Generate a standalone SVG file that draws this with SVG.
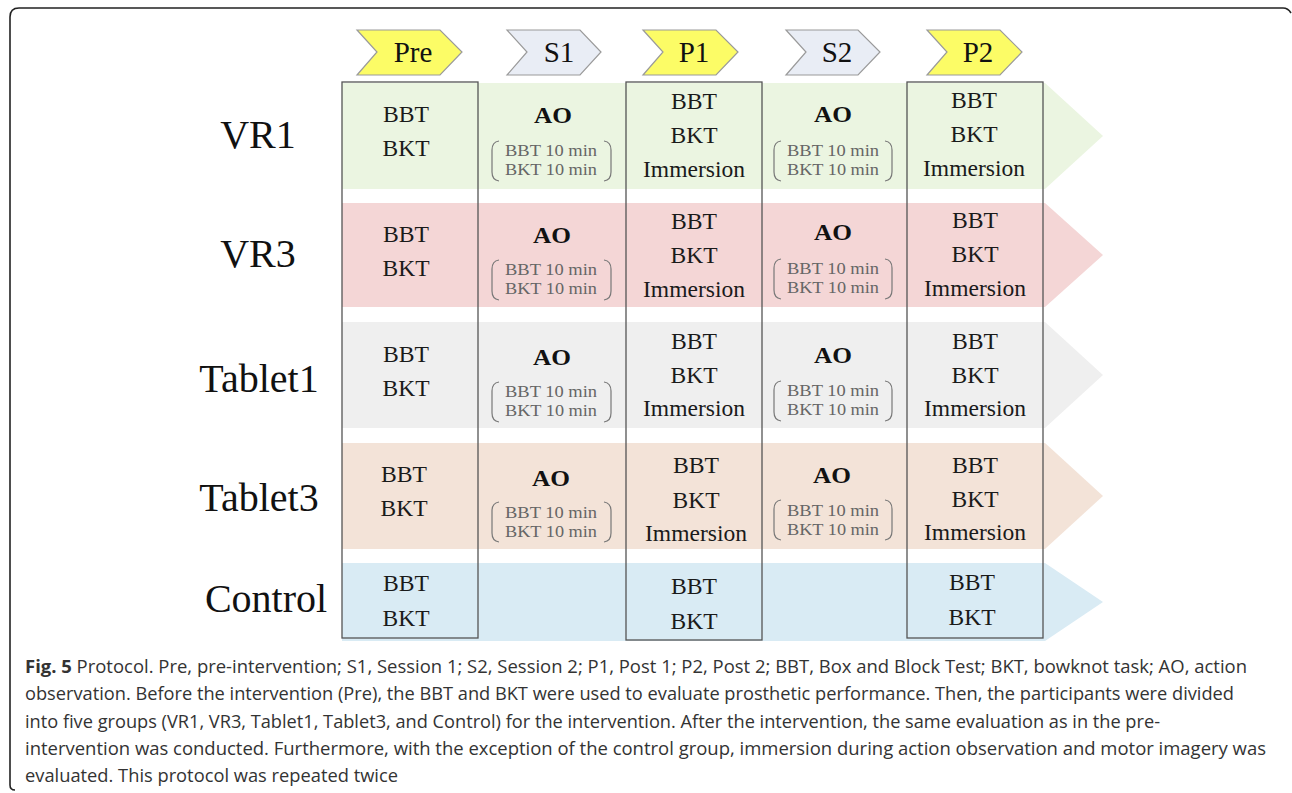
<svg xmlns="http://www.w3.org/2000/svg" width="1292" height="793" viewBox="0 0 1292 793">
<style>
.frame{fill:none;stroke:#222;stroke-width:1.6}
.chev{stroke:#9a9a9a;stroke-width:1.2}
.y{fill:#fcfc66}
.s{fill:#e9edf5}
.box{fill:none;stroke:#555;stroke-width:1.3}
.ct{font-family:"Liberation Serif",serif;font-size:29px;fill:#111;text-anchor:middle}
.grp{font-family:"Liberation Serif",serif;font-size:40px;fill:#111;text-anchor:middle}
.cell{font-family:"Liberation Serif",serif;font-size:23px;fill:#1a1a1a;text-anchor:middle}
.ao{font-family:"Liberation Serif",serif;font-size:23px;font-weight:bold;fill:#111;text-anchor:middle}
.sm{font-family:"Liberation Serif",serif;font-size:16px;fill:#666;text-anchor:middle}
.br{fill:none;stroke:#777;stroke-width:1.2}
.cap{font-family:"Open Sans","Liberation Sans",sans-serif;font-size:18px;fill:#333}
</style>
<path class="frame" d="M15,790 Q10,790 10,785 L10,17 Q10,8 19,8 L1283,8 Q1288,8 1291,13"/>
<g id="bands">
<polygon points="342,83 1045,83 1103,136 1045,189 342,189" fill="#ebf5e1"/>
<polygon points="342,203 1045,203 1103,255 1045,307 342,307" fill="#f4d6d6"/>
<polygon points="342,322 1045,322 1103,375 1045,428 342,428" fill="#efefef"/>
<polygon points="342,443 1045,443 1103,496 1045,549 342,549" fill="#f3e3d8"/>
<polygon points="342,563 1045,563 1103,602 1045,641 342,641" fill="#d9ebf4"/>
</g>
<g id="phases">
<g id="pre"><polygon class="chev y" points="357,30 440,30 462,52 440,75 357,75 377,52"/><text class="ct" x="413" y="62">Pre</text></g>
<g id="s1"><polygon class="chev s" points="507,30 580,30 601,52 580,75 507,75 527,52"/><text class="ct" x="559" y="62">S1</text></g>
<g id="p1"><polygon class="chev y" points="643,30 716,30 738,52 716,75 643,75 663,52"/><text class="ct" x="694" y="62">P1</text></g>
<g id="s2"><polygon class="chev s" points="786,30 858,30 880,52 858,75 786,75 806,52"/><text class="ct" x="837" y="62">S2</text></g>
<g id="p2"><polygon class="chev y" points="927,30 1000,30 1022,52 1000,75 927,75 947,52"/><text class="ct" x="978" y="62">P2</text></g>
</g>
<g id="columns">
<rect class="box" x="342" y="82" width="136" height="556"/>
<rect class="box" x="626" y="82" width="136" height="558"/>
<rect class="box" x="907" y="82" width="136" height="556"/>
</g>
<g id="groups">
<text class="grp" x="258" y="148">VR1</text>
<text class="grp" x="258" y="267">VR3</text>
<text class="grp" x="259" y="392">Tablet1</text>
<text class="grp" x="259" y="511">Tablet3</text>
<text class="grp" x="266" y="612">Control</text>
</g>
<g id="row-vr1">
<text class="cell" x="406" y="122" textLength="46" lengthAdjust="spacingAndGlyphs">BBT</text>
<text class="cell" x="406" y="156" textLength="47" lengthAdjust="spacingAndGlyphs">BKT</text>
<text class="ao" x="553" y="123" textLength="38" lengthAdjust="spacingAndGlyphs">AO</text>
<path class="br" d="M499,141 Q492,142 492,150 L492,172 Q492,180 499,181"/>
<path class="br" d="M604,141 Q611,142 611,150 L611,172 Q611,180 604,181"/>
<text class="sm" x="551" y="156" textLength="92" lengthAdjust="spacingAndGlyphs">BBT 10 min</text>
<text class="sm" x="551" y="175" textLength="92" lengthAdjust="spacingAndGlyphs">BKT 10 min</text>
<text class="cell" x="694" y="109" textLength="46" lengthAdjust="spacingAndGlyphs">BBT</text>
<text class="cell" x="694" y="143" textLength="47" lengthAdjust="spacingAndGlyphs">BKT</text>
<text class="cell" x="694" y="177" textLength="102" lengthAdjust="spacingAndGlyphs">Immersion</text>
<text class="ao" x="833" y="122" textLength="38" lengthAdjust="spacingAndGlyphs">AO</text>
<path class="br" d="M781,141 Q774,142 774,150 L774,172 Q774,180 781,181"/>
<path class="br" d="M885,141 Q892,142 892,150 L892,172 Q892,180 885,181"/>
<text class="sm" x="833" y="156" textLength="92" lengthAdjust="spacingAndGlyphs">BBT 10 min</text>
<text class="sm" x="833" y="175" textLength="92" lengthAdjust="spacingAndGlyphs">BKT 10 min</text>
<text class="cell" x="974" y="108" textLength="46" lengthAdjust="spacingAndGlyphs">BBT</text>
<text class="cell" x="974" y="142" textLength="47" lengthAdjust="spacingAndGlyphs">BKT</text>
<text class="cell" x="974" y="176" textLength="102" lengthAdjust="spacingAndGlyphs">Immersion</text>
</g>
<g id="row-vr3">
<text class="cell" x="406" y="242" textLength="46" lengthAdjust="spacingAndGlyphs">BBT</text>
<text class="cell" x="406" y="276" textLength="47" lengthAdjust="spacingAndGlyphs">BKT</text>
<text class="ao" x="552" y="243" textLength="38" lengthAdjust="spacingAndGlyphs">AO</text>
<path class="br" d="M499,260 Q492,261 492,269 L492,291 Q492,299 499,300"/>
<path class="br" d="M604,260 Q611,261 611,269 L611,291 Q611,299 604,300"/>
<text class="sm" x="551" y="275" textLength="92" lengthAdjust="spacingAndGlyphs">BBT 10 min</text>
<text class="sm" x="551" y="294" textLength="92" lengthAdjust="spacingAndGlyphs">BKT 10 min</text>
<text class="cell" x="694" y="229" textLength="46" lengthAdjust="spacingAndGlyphs">BBT</text>
<text class="cell" x="694" y="263" textLength="47" lengthAdjust="spacingAndGlyphs">BKT</text>
<text class="cell" x="694" y="297" textLength="102" lengthAdjust="spacingAndGlyphs">Immersion</text>
<text class="ao" x="833" y="240" textLength="38" lengthAdjust="spacingAndGlyphs">AO</text>
<path class="br" d="M781,259 Q774,260 774,268 L774,290 Q774,298 781,299"/>
<path class="br" d="M885,259 Q892,260 892,268 L892,290 Q892,298 885,299"/>
<text class="sm" x="833" y="274" textLength="92" lengthAdjust="spacingAndGlyphs">BBT 10 min</text>
<text class="sm" x="833" y="293" textLength="92" lengthAdjust="spacingAndGlyphs">BKT 10 min</text>
<text class="cell" x="975" y="228" textLength="46" lengthAdjust="spacingAndGlyphs">BBT</text>
<text class="cell" x="975" y="262" textLength="47" lengthAdjust="spacingAndGlyphs">BKT</text>
<text class="cell" x="975" y="296" textLength="102" lengthAdjust="spacingAndGlyphs">Immersion</text>
</g>
<g id="row-tablet1">
<text class="cell" x="406" y="362" textLength="46" lengthAdjust="spacingAndGlyphs">BBT</text>
<text class="cell" x="406" y="396" textLength="47" lengthAdjust="spacingAndGlyphs">BKT</text>
<text class="ao" x="552" y="365" textLength="38" lengthAdjust="spacingAndGlyphs">AO</text>
<path class="br" d="M499,382 Q492,383 492,391 L492,413 Q492,421 499,422"/>
<path class="br" d="M604,382 Q611,383 611,391 L611,413 Q611,421 604,422"/>
<text class="sm" x="551" y="397" textLength="92" lengthAdjust="spacingAndGlyphs">BBT 10 min</text>
<text class="sm" x="551" y="416" textLength="92" lengthAdjust="spacingAndGlyphs">BKT 10 min</text>
<text class="cell" x="694" y="349" textLength="46" lengthAdjust="spacingAndGlyphs">BBT</text>
<text class="cell" x="694" y="383" textLength="47" lengthAdjust="spacingAndGlyphs">BKT</text>
<text class="cell" x="694" y="416" textLength="102" lengthAdjust="spacingAndGlyphs">Immersion</text>
<text class="ao" x="833" y="363" textLength="38" lengthAdjust="spacingAndGlyphs">AO</text>
<path class="br" d="M781,381 Q774,382 774,390 L774,412 Q774,420 781,421"/>
<path class="br" d="M885,381 Q892,382 892,390 L892,412 Q892,420 885,421"/>
<text class="sm" x="833" y="396" textLength="92" lengthAdjust="spacingAndGlyphs">BBT 10 min</text>
<text class="sm" x="833" y="415" textLength="92" lengthAdjust="spacingAndGlyphs">BKT 10 min</text>
<text class="cell" x="975" y="349" textLength="46" lengthAdjust="spacingAndGlyphs">BBT</text>
<text class="cell" x="975" y="383" textLength="47" lengthAdjust="spacingAndGlyphs">BKT</text>
<text class="cell" x="975" y="416" textLength="102" lengthAdjust="spacingAndGlyphs">Immersion</text>
</g>
<g id="row-tablet3">
<text class="cell" x="404" y="482" textLength="46" lengthAdjust="spacingAndGlyphs">BBT</text>
<text class="cell" x="404" y="516" textLength="47" lengthAdjust="spacingAndGlyphs">BKT</text>
<text class="ao" x="551" y="486" textLength="38" lengthAdjust="spacingAndGlyphs">AO</text>
<path class="br" d="M499,502 Q492,503 492,511 L492,533 Q492,541 499,542"/>
<path class="br" d="M604,502 Q611,503 611,511 L611,533 Q611,541 604,542"/>
<text class="sm" x="551" y="518" textLength="92" lengthAdjust="spacingAndGlyphs">BBT 10 min</text>
<text class="sm" x="551" y="537" textLength="92" lengthAdjust="spacingAndGlyphs">BKT 10 min</text>
<text class="cell" x="696" y="473" textLength="46" lengthAdjust="spacingAndGlyphs">BBT</text>
<text class="cell" x="696" y="508" textLength="47" lengthAdjust="spacingAndGlyphs">BKT</text>
<text class="cell" x="696" y="541" textLength="102" lengthAdjust="spacingAndGlyphs">Immersion</text>
<text class="ao" x="832" y="483" textLength="38" lengthAdjust="spacingAndGlyphs">AO</text>
<path class="br" d="M781,500 Q774,501 774,509 L774,531 Q774,539 781,540"/>
<path class="br" d="M885,500 Q892,501 892,509 L892,531 Q892,539 885,540"/>
<text class="sm" x="833" y="516" textLength="92" lengthAdjust="spacingAndGlyphs">BBT 10 min</text>
<text class="sm" x="833" y="535" textLength="92" lengthAdjust="spacingAndGlyphs">BKT 10 min</text>
<text class="cell" x="975" y="473" textLength="46" lengthAdjust="spacingAndGlyphs">BBT</text>
<text class="cell" x="975" y="507" textLength="47" lengthAdjust="spacingAndGlyphs">BKT</text>
<text class="cell" x="975" y="540" textLength="102" lengthAdjust="spacingAndGlyphs">Immersion</text>
</g>
<g id="row-control">
<text class="cell" x="406" y="591" textLength="46" lengthAdjust="spacingAndGlyphs">BBT</text>
<text class="cell" x="406" y="626" textLength="47" lengthAdjust="spacingAndGlyphs">BKT</text>
<text class="cell" x="694" y="594" textLength="46" lengthAdjust="spacingAndGlyphs">BBT</text>
<text class="cell" x="694" y="629" textLength="47" lengthAdjust="spacingAndGlyphs">BKT</text>
<text class="cell" x="972" y="590" textLength="46" lengthAdjust="spacingAndGlyphs">BBT</text>
<text class="cell" x="972" y="625" textLength="47" lengthAdjust="spacingAndGlyphs">BKT</text>
</g>
<g id="caption">
<text class="cap" x="25" y="673" textLength="1222" lengthAdjust="spacingAndGlyphs"><tspan font-weight="bold">Fig. 5</tspan> Protocol. Pre, pre-intervention; S1, Session 1; S2, Session 2; P1, Post 1; P2, Post 2; BBT, Box and Block Test; BKT, bowknot task; AO, action</text>
<text class="cap" x="25" y="700" textLength="1209" lengthAdjust="spacingAndGlyphs">observation. Before the intervention (Pre), the BBT and BKT were used to evaluate prosthetic performance. Then, the participants were divided</text>
<text class="cap" x="25" y="728" textLength="1135" lengthAdjust="spacingAndGlyphs">into five groups (VR1, VR3, Tablet1, Tablet3, and Control) for the intervention. After the intervention, the same evaluation as in the pre-</text>
<text class="cap" x="25" y="755" textLength="1241" lengthAdjust="spacingAndGlyphs">intervention was conducted. Furthermore, with the exception of the control group, immersion during action observation and motor imagery was</text>
<text class="cap" x="25" y="782" textLength="373" lengthAdjust="spacingAndGlyphs">evaluated. This protocol was repeated twice</text>
</g>
</svg>
